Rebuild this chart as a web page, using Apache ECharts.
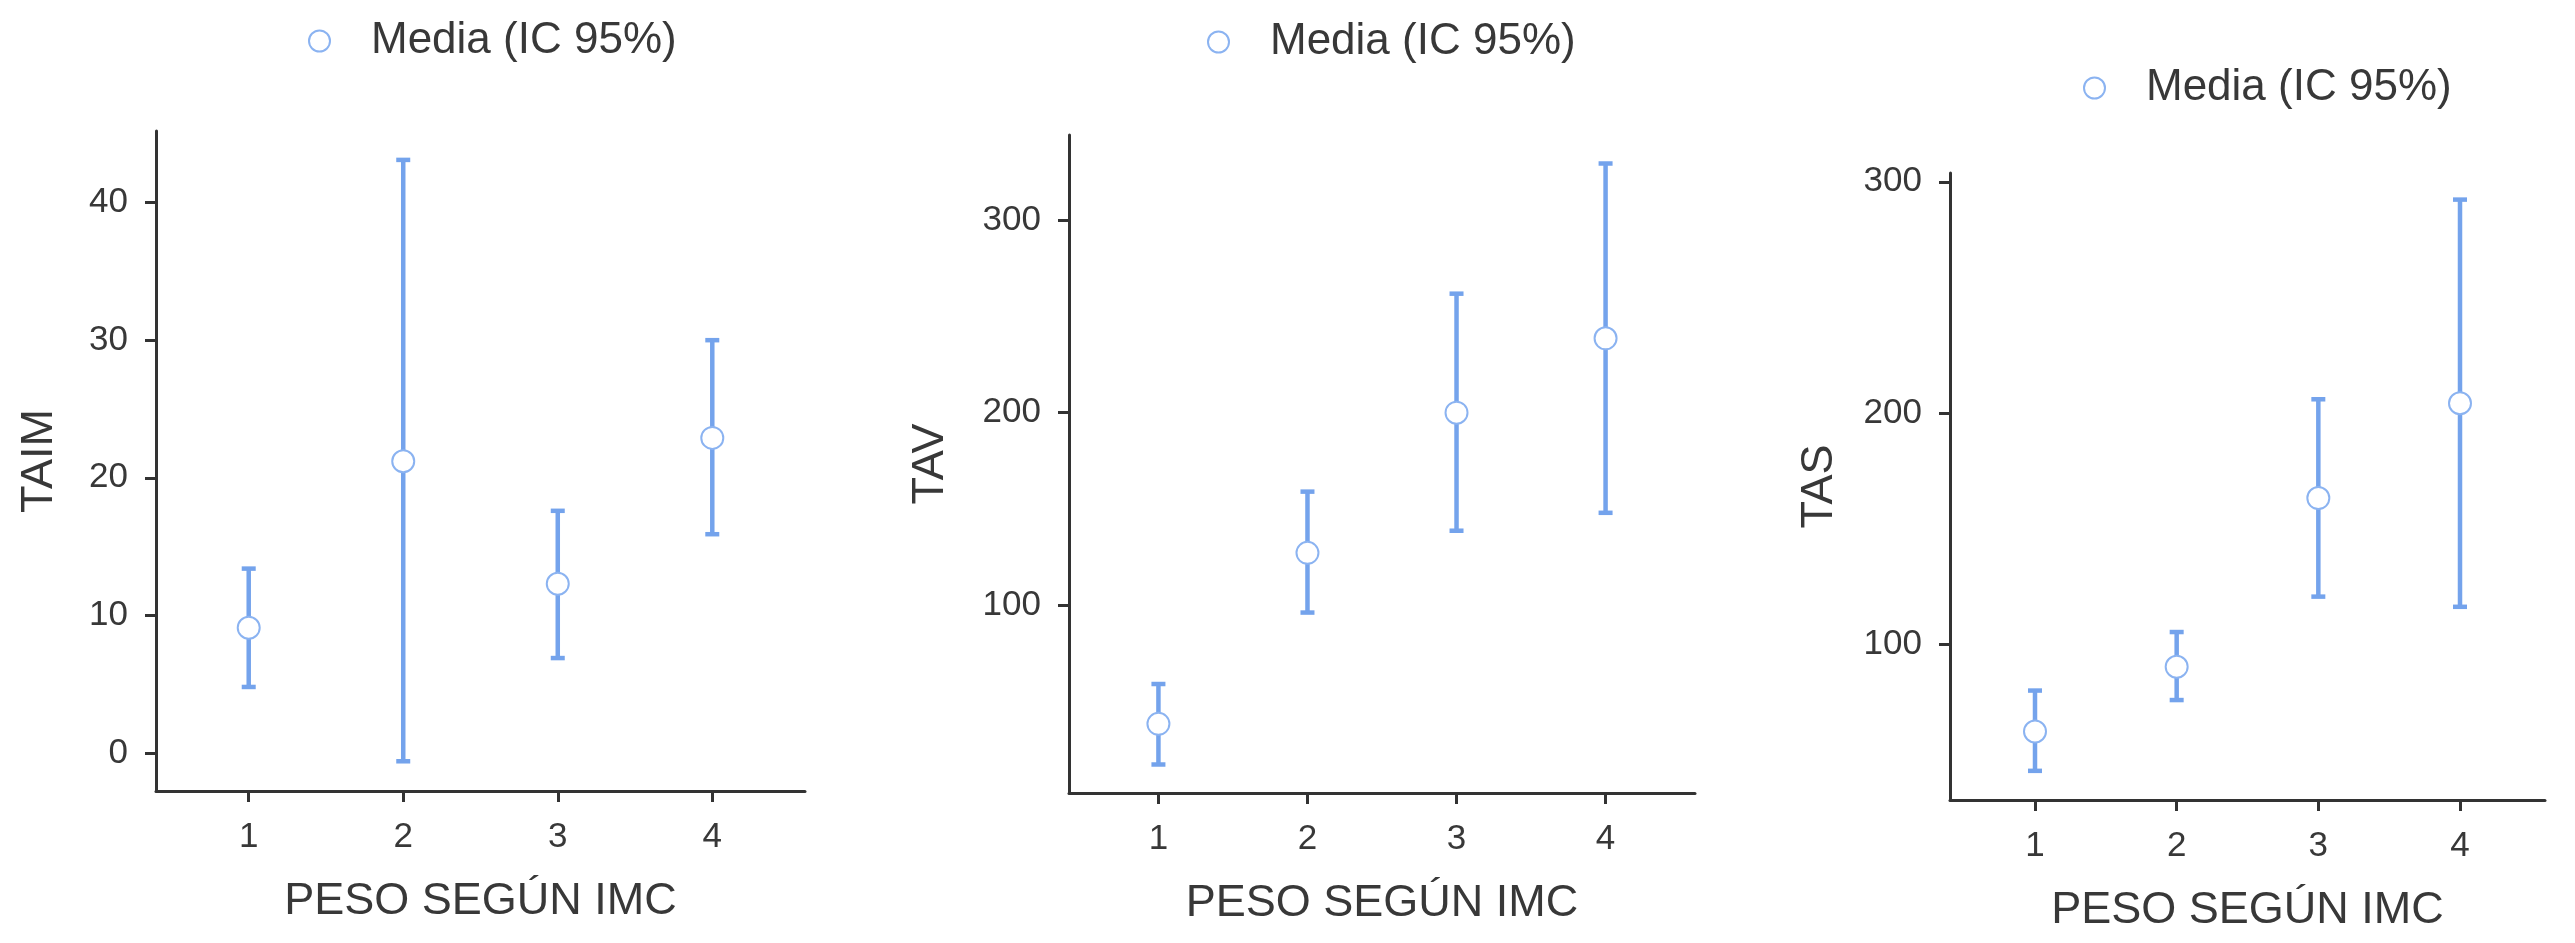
<!DOCTYPE html>
<html>
<head>
<meta charset="utf-8">
<script src="https://cdn.jsdelivr.net/npm/echarts@6.0.0/dist/echarts.min.js"></script>
<style>
  html, body { margin: 0; padding: 0; background: #fff; }
  #chart { width: 2575px; height: 943px; }
</style>
</head>
<body>
<div id="chart"></div>
<script>
// PESO SEGÚN IMC groups
const categories = [1, 2, 3, 4];
const xTitle = 'PESO SEGÚN IMC';
const seriesName = 'Media (IC 95%)';

// TAIM
const taimMean = [9.1, 21.2, 12.3, 22.9];
const taimLow = [4.8, -0.6, 6.9, 15.9];
const taimHigh = [13.4, 43.1, 17.6, 30.0];
const taimTicks = [0, 10, 20, 30, 40];

// TAV
const tavMean = [38.4, 127.2, 200.0, 238.6];
const tavLow = [17.3, 96.2, 138.7, 148.0];
const tavHigh = [59.1, 159.0, 261.8, 329.4];
const tavTicks = [100, 200, 300];

// TAS
const tasMean = [62.4, 90.4, 163.3, 204.3];
const tasLow = [45.4, 76.0, 120.7, 116.3];
const tasHigh = [80.1, 105.4, 206.0, 292.3];
const tasTicks = [100, 200, 300];

const barColor = '#74a3ec';
const dotBorder = '#8bb3f1';
const textColor = '#383838';
const axisColor = '#333333';
const fontFamily = '"Liberation Sans", Arial, sans-serif';

const panels = [
  {
    name: 'TAIM', mean: taimMean, low: taimLow, high: taimHigh, ticks: taimTicks,
    yMin: -2.76, yMax: 45.2, nameGap: 94,
    grid: { left: 156, top: 131, width: 649, height: 660 },
    legend: { left: 308, top: 19 }
  },
  {
    name: 'TAV', mean: tavMean, low: tavLow, high: tavHigh, ticks: tavTicks,
    yMin: 2.5, yMax: 344.2, nameGap: 116,
    grid: { left: 1069, top: 135, width: 626, height: 658 },
    legend: { left: 1207, top: 20 }
  },
  {
    name: 'TAS', mean: tasMean, low: tasLow, high: tasHigh, ticks: tasTicks,
    yMin: 32.8, yMax: 303.8, nameGap: 108,
    grid: { left: 1950, top: 173, width: 595, height: 627 },
    legend: { left: 2083, top: 66 }
  }
];

// error bar with caps, drawn from [x, low, high]
function renderErrorBar(params, api) {
  const x = api.value(0);
  const lo = api.coord([x, api.value(1)]);
  const hi = api.coord([x, api.value(2)]);
  const half = 7;
  const style = { stroke: barColor, lineWidth: 4.5 };
  return {
    type: 'group',
    children: [
      { type: 'line', shape: { x1: lo[0], y1: lo[1], x2: hi[0], y2: hi[1] }, style: style },
      { type: 'line', shape: { x1: lo[0] - half, y1: lo[1], x2: lo[0] + half, y2: lo[1] }, style: style },
      { type: 'line', shape: { x1: hi[0] - half, y1: hi[1], x2: hi[0] + half, y2: hi[1] }, style: style }
    ]
  };
}

const axisLineStyle = { color: axisColor, width: 3 };

const option = {
  animation: false,
  backgroundColor: '#ffffff',
  textStyle: { fontFamily: fontFamily },
  legend: panels.map(p => ({
    left: p.legend.left,
    top: p.legend.top,
    padding: 0,
    itemWidth: 21,
    itemHeight: 21,
    selectedMode: false,
    data: [{
      name: seriesName,
      icon: 'circle',
      itemStyle: { color: '#ffffff', borderColor: dotBorder, borderWidth: 2 }
    }],
    textStyle: { fontSize: 44, color: textColor, fontFamily: fontFamily, padding: [0, 0, 0, 36] }
  })),
  grid: panels.map(p => Object.assign({}, p.grid)),
  xAxis: panels.map((p, i) => ({
    type: 'value',
    gridIndex: i,
    min: 0.4,
    max: 4.6,
    name: xTitle,
    nameLocation: 'middle',
    nameGap: 88,
    nameTextStyle: { fontSize: 45, color: textColor, fontFamily: fontFamily },
    axisLine: { onZero: false, lineStyle: axisLineStyle },
    axisTick: { show: true, length: 11, customValues: categories, lineStyle: axisLineStyle },
    axisLabel: { customValues: categories, fontSize: 35, margin: 29, color: textColor },
    splitLine: { show: false }
  })),
  yAxis: panels.map((p, i) => ({
    type: 'value',
    gridIndex: i,
    min: p.yMin,
    max: p.yMax,
    name: p.name,
    nameLocation: 'middle',
    nameGap: p.nameGap,
    nameTextStyle: { fontSize: 45, color: textColor, fontFamily: fontFamily },
    axisLine: { show: true, onZero: false, lineStyle: axisLineStyle },
    axisTick: { show: true, length: 11, customValues: p.ticks, lineStyle: axisLineStyle },
    axisLabel: { customValues: p.ticks, fontSize: 35, margin: 28, color: textColor },
    splitLine: { show: false }
  })),
  series: []
};

panels.forEach((p, i) => {
  option.series.push({
    name: 'IC',
    type: 'custom',
    xAxisIndex: i,
    yAxisIndex: i,
    renderItem: renderErrorBar,
    data: categories.map((c, j) => [c, p.low[j], p.high[j]]),
    z: 2
  });
  option.series.push({
    name: seriesName,
    type: 'scatter',
    xAxisIndex: i,
    yAxisIndex: i,
    symbol: 'circle',
    symbolSize: 22,
    itemStyle: { color: '#ffffff', borderColor: dotBorder, borderWidth: 2, opacity: 1 },
    data: categories.map((c, j) => [c, p.mean[j]]),
    z: 3
  });
});

const chart = echarts.init(document.getElementById('chart'));
chart.setOption(option);
window.addEventListener('resize', () => chart.resize());
</script>
</body>
</html>
